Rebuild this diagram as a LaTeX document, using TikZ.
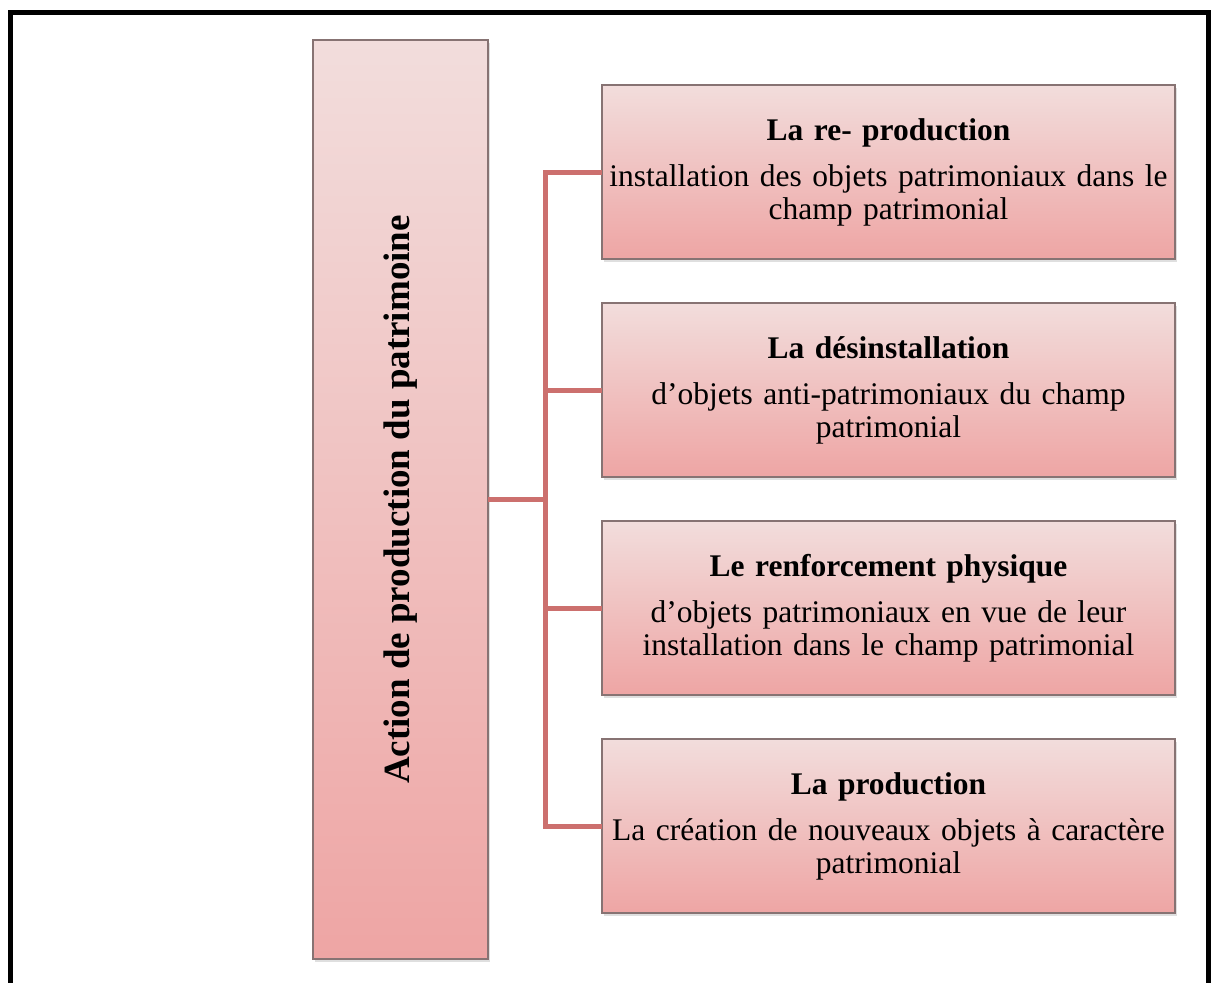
\documentclass[tikz,border=0pt]{standalone}
\usepackage{fontspec}
\setmainfont{Liberation Serif}
\usetikzlibrary{positioning,shadows}
\definecolor{pinktop}{RGB}{242,221,220}
\definecolor{pinkbot}{RGB}{238,165,164}
\definecolor{boxline}{RGB}{135,115,115}
\definecolor{linkred}{RGB}{204,112,110}
\tikzset{
  box/.style={draw=boxline, line width=1.2pt, outer sep=0pt, top color=pinktop, bottom color=pinkbot,
    drop shadow={opacity=0.25, shadow xshift=1.5pt, shadow yshift=-3pt},
    minimum width=573pt, minimum height=174pt, inner xsep=1.5pt, text width=570pt, align=center,
    font=\fontsize{31.5}{33}\selectfont},
  link/.style={linkred, line width=5pt}
}
\begin{document}
\begin{tikzpicture}[x=1pt, y=-1pt]
\useasboundingbox (0,0) rectangle (1211,983);
\draw[line width=5pt] (10.5,1000) |- (1208.5,12.5) -- (1208.5,1000);
\node[draw=boxline, line width=1.2pt, outer sep=0pt, rotate=90, top color=pinktop, bottom color=pinkbot,
  drop shadow={opacity=0.25, shadow xshift=1.5pt, shadow yshift=-3pt},
  minimum width=919pt, minimum height=175pt, font=\fontsize{37}{40}\selectfont\bfseries]
  (main) at (400.5,499.5) {Action de production du patrimoine};
\node[box] (b1) at (888.5,172) {{\bfseries La re- production}\\[13pt]installation des objets patrimoniaux dans le\\champ patrimonial};
\node[box, below=44pt of b1] (b2) {{\bfseries La désinstallation}\\[13pt]d’objets anti-patrimoniaux du champ\\patrimonial};
\node[box, below=44pt of b2] (b3) {{\bfseries Le renforcement physique}\\[13pt]d’objets patrimoniaux en vue de leur\\installation dans le champ patrimonial};
\node[box, below=44pt of b3] (b4) {{\bfseries La production}\\[13pt]La création de nouveaux objets à caractère\\patrimonial};
\coordinate (bus) at (545,499.5);
\draw[link] (main.south) -- (bus);
\foreach \b in {b1,b2,b3,b4}
  \draw[link] (\b.west) -| (bus);
\end{tikzpicture}
\end{document}
